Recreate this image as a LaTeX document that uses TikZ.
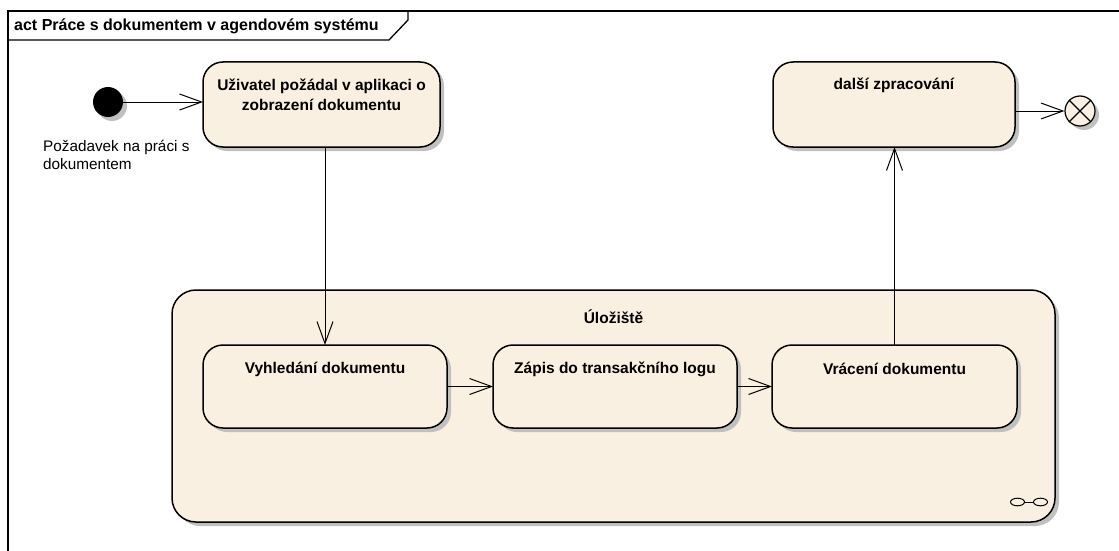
\documentclass[tikz,border=0pt]{standalone}
\usepackage{fontspec}
\setmainfont{Liberation Sans}
\usetikzlibrary{arrows.meta,shadows}
\definecolor{actfill}{RGB}{250,240,226}
\definecolor{shadowgray}{RGB}{192,192,192}
\tikzset{
  boxshadow/.style={drop shadow={shadow xshift=4pt,shadow yshift=-4pt,fill=shadowgray,opacity=1}},
  actionbox/.style={draw=black,line width=1.5pt,fill=actfill,rounded corners=20pt,boxshadow,
    inner sep=0pt,outer sep=0pt},
  regionbox/.style={draw=black,line width=1.5pt,fill=actfill,rounded corners=24pt,boxshadow,
    inner sep=0pt,outer sep=0pt},
  boldtxt/.style={font=\fontsize{15.5}{20}\selectfont\bfseries,align=center,inner sep=0pt},
  titletxt/.style={font=\fontsize{16}{20}\selectfont\bfseries,inner sep=0pt},
  plaintxt/.style={font=\fontsize{15.3}{18.5}\selectfont,align=left,inner sep=0pt},
  flow/.style={draw=black,line width=1pt,-{Straight Barb[length=22pt,width=16pt,line width=1pt]}},
  framepen/.style={draw=black,line width=1.3pt},
}
\begin{document}
\begin{tikzpicture}[x=1pt,y=-1pt]
  \useasboundingbox (0,0) rectangle (1119,551);

  % diagram frame and its name tab
  \draw[framepen] (8,551) -- (8,11) -- (1119,11);
  \draw[framepen] (8,40) -- (389,40) -- (408,20) -- (408,11);
  \node[titletxt,anchor=west] (title) at (14,26) {act Práce s dokumentem v agendovém systému};

  % initial node and its label
  \node[circle,fill=black,minimum size=30pt,inner sep=0pt,boxshadow] (init) at (108,102) {};
  \node[plaintxt,anchor=north west] (initlbl) at (43,140) {Požadavek na práci s\\dokumentem};

  % top actions
  \node[actionbox,minimum width=237pt,minimum height=85pt] (req) at (321.5,104.5) {};
  \node[boldtxt] (reqT) at ([yshift=-33pt]req.north) {Uživatel požádal v aplikaci o\\zobrazení dokumentu};

  \node[actionbox,minimum width=242pt,minimum height=85pt] (next) at (894,104.5) {};
  \node[boldtxt] (nextT) at ([yshift=-23pt]next.north) {další zpracování};

  % final node
  \node[circle,draw=black,line width=1.2pt,fill=actfill,minimum size=30pt,inner sep=0pt,boxshadow] (fin) at (1080,111) {};
  \draw[line width=1.2pt] (fin.45) -- (fin.225) (fin.135) -- (fin.-45);

  % storage region with its inner actions
  \node[regionbox,minimum width=883pt,minimum height=232pt] (store) at (613.5,406) {};
  \node[boldtxt] (storeT) at ([yshift=-27pt]store.north) {Úložiště};

  \node[actionbox,minimum width=244pt,minimum height=83pt] (find) at (325,386.5) {};
  \node[boldtxt] (findT) at ([yshift=-24pt]find.north) {Vyhledání dokumentu};

  \node[actionbox,minimum width=244pt,minimum height=83pt] (log) at (615,386.5) {};
  \node[boldtxt] (logT) at ([yshift=-24pt]log.north) {Zápis do transakčního logu};

  \node[actionbox,minimum width=245pt,minimum height=83pt] (ret) at (894.5,386.5) {};
  \node[boldtxt] (retT) at ([yshift=-24pt]ret.north) {Vrácení dokumentu};

  % composite marker in the region corner
  \draw[line width=1pt] (1017.5,502) ellipse [x radius=7pt,y radius=3.8pt]
                        (1040.5,502) ellipse [x radius=7pt,y radius=3.8pt];
  \draw[line width=1pt] (1024.5,502) -- (1033.5,502);

  % control flows
  \draw[flow] (init.east) -- (init.east -| req.west);
  \draw[flow] (find.north |- req.south) -- (find.north);
  \draw[flow] (find.east) -- (log.west);
  \draw[flow] (log.east) -- (ret.west);
  \draw[flow] (ret.north) -- (ret.north |- next.south);
  \draw[flow] (fin.west -| next.east) -- (fin.west);
\end{tikzpicture}
\end{document}
